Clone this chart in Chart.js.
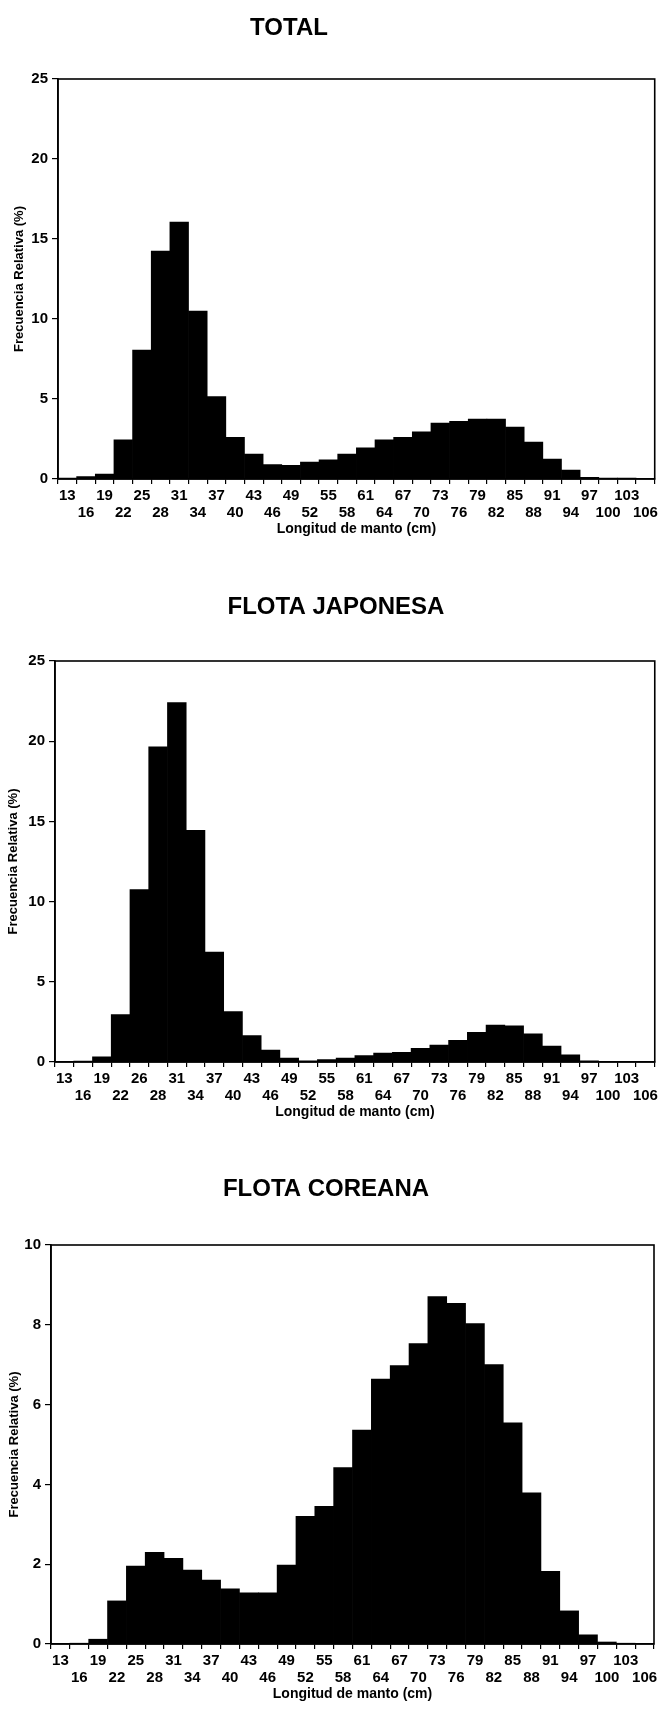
<!DOCTYPE html>
<html>
<head>
<meta charset="utf-8">
<script src="https://cdn.jsdelivr.net/npm/chart.js@4.4.1/dist/chart.umd.min.js"></script>
<style>
  html, body { margin: 0; padding: 0; background: #fff; }
  #page { position: relative; width: 662px; height: 1715px; overflow: hidden; }
  canvas { position: absolute; left: 0; }
</style>
</head>
<body>
<div id="page">
  <canvas id="cTotal" width="662" height="545" style="top:0px"></canvas>
  <canvas id="cJapon" width="662" height="558" style="top:570px"></canvas>
  <canvas id="cCorea" width="662" height="560" style="top:1150px"></canvas>
</div>
<script>
// length classes (cm)
const lengths = [13, 16, 19, 22, 25, 28, 31, 34, 37, 40, 43, 46, 49, 52, 55, 58,
                 61, 64, 67, 70, 73, 76, 79, 82, 85, 88, 91, 94, 97, 100, 103, 106];

// tick texts as printed under each panel
const tickLabels = ['13', '16', '19', '22', '25', '28', '31', '34', '37', '40', '43', '46', '49', '52', '55', '58',
                    '61', '64', '67', '70', '73', '76', '79', '82', '85', '88', '91', '94', '97', '100', '103', '106'];
const tickLabelsJapon = ['13', '16', '19', '22', '26', '28', '31', '34', '37', '40', '43', '46', '49', '52', '55', '58',
                         '61', '64', '67', '70', '73', '76', '79', '82', '85', '88', '91', '94', '97', '100', '103', '106'];

// relative frequency (%)
const total = [0.05, 0.15, 0.3, 2.45, 8.05, 14.25, 16.05, 10.5, 5.15, 2.6, 1.55, 0.9, 0.85, 1.05, 1.2, 1.55,
               1.95, 2.45, 2.6, 2.95, 3.5, 3.6, 3.75, 3.75, 3.25, 2.3, 1.25, 0.55, 0.1, 0.05, 0.05, 0];
const japonesa = [0.02, 0.06, 0.33, 2.95, 10.75, 19.65, 22.4, 14.45, 6.85, 3.15, 1.65, 0.75, 0.25, 0.08, 0.15, 0.25,
                  0.4, 0.55, 0.6, 0.85, 1.05, 1.35, 1.85, 2.3, 2.25, 1.75, 1.0, 0.45, 0.08, 0.03, 0.03, 0];
const coreana = [0.01, 0.02, 0.12, 1.08, 1.95, 2.3, 2.15, 1.85, 1.6, 1.38, 1.28, 1.28, 1.98, 3.2, 3.45, 4.42,
                 5.36, 6.64, 6.98, 7.53, 8.71, 8.54, 8.03, 7.0, 5.54, 3.79, 1.82, 0.83, 0.23, 0.05, 0.02, 0];

const FONT = "'Liberation Sans', Arial, sans-serif";
Chart.defaults.font.family = FONT;
Chart.defaults.color = '#000';

// panel heading, drawn at a given spot
const panelTitle = {
  id: 'panelTitle',
  afterDraw(chart, args, opts) {
    const ctx = chart.ctx;
    ctx.save();
    ctx.font = 'bold 24px ' + FONT;
    ctx.fillStyle = '#000';
    ctx.textAlign = 'center';
    ctx.textBaseline = 'middle';
    ctx.fillText(opts.text, opts.x, opts.y);
    ctx.restore();
  }
};

// box around the plot area
const frame = {
  id: 'frame',
  afterDraw(chart) {
    const a = chart.chartArea, ctx = chart.ctx;
    ctx.save();
    ctx.strokeStyle = '#000';
    ctx.lineWidth = 1.6;
    ctx.strokeRect(a.left, a.top, a.right - a.left, a.bottom - a.top);
    ctx.restore();
  }
};

function makeChart(id, values, labels, yMax, yStep, lay) {
  return new Chart(document.getElementById(id), {
    type: 'bar',
    data: {
      labels: lengths,
      datasets: [{
        data: values,
        backgroundColor: '#000',
        borderWidth: 0,
        barPercentage: 1,
        categoryPercentage: 1
      }]
    },
    options: {
      responsive: false,
      animation: false,
      events: [],
      layout: { padding: { top: lay.plotTop, right: lay.right, bottom: 0, left: 0 } },
      plugins: {
        legend: { display: false },
        tooltip: { enabled: false },
        panelTitle: { text: lay.title, x: lay.titleX, y: lay.titleY }
      },
      scales: {
        x: {
          afterFit: s => { s.height = 66; },
          grid: { drawOnChartArea: false, drawTicks: true, tickLength: 5, color: '#000', lineWidth: 1.2 },
          border: { display: true, color: '#000', width: 1.6 },
          ticks: {
            autoSkip: false, maxRotation: 0, minRotation: 0, padding: 4,
            font: { size: 15, weight: 'bold', lineHeight: 1.1 },
            callback: (v, i) => i % 2 === 0 ? [labels[i], ''] : ['', labels[i]]
          },
          title: {
            display: true, text: 'Longitud de manto (cm)',
            font: { size: 14, weight: 'bold' },
            padding: { top: 0, bottom: 7 }
          }
        },
        y: {
          min: 0, max: yMax,
          afterFit: s => { s.width = lay.left; },
          grid: { drawOnChartArea: false, drawTicks: true, tickLength: 6, color: '#000', lineWidth: 1.2 },
          border: { display: true, color: '#000', width: 1.6 },
          ticks: { stepSize: yStep, padding: 4, font: { size: 15, weight: 'bold' } },
          title: {
            display: true, text: 'Frecuencia Relativa (%)',
            font: { size: 13, weight: 'bold' },
            padding: { top: lay.yTitleX - 8, bottom: 0 }
          }
        }
      }
    },
    plugins: [panelTitle, frame]
  });
}

makeChart('cTotal', total, tickLabels, 25, 5,
  { title: 'TOTAL', titleX: 289, titleY: 28, plotTop: 79, left: 58, right: 6, yTitleX: 20 });
makeChart('cJapon', japonesa, tickLabelsJapon, 25, 5,
  { title: 'FLOTA JAPONESA', titleX: 336, titleY: 37, plotTop: 91, left: 55, right: 6, yTitleX: 14 });
makeChart('cCorea', coreana, tickLabels, 10, 2,
  { title: 'FLOTA COREANA', titleX: 326, titleY: 39, plotTop: 95, left: 51, right: 8, yTitleX: 15 });
</script>
</body>
</html>
